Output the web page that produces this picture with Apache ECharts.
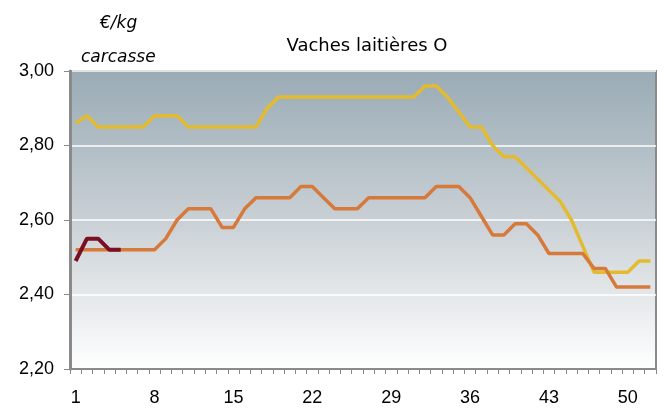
<!DOCTYPE html>
<html>
<head>
<meta charset="utf-8">
<script src="https://cdn.jsdelivr.net/npm/echarts@6/dist/echarts.min.js"></script>
<style>
  html, body { margin: 0; padding: 0; background: #fff; }
  #main { width: 667px; height: 410px; }
</style>
</head>
<body>
<div id="main"></div>
<script>
// semaines 1..52
const weeks = []
for (let i = 1; i <= 52; i++) weeks.push(String(i))

// prix (€/kg carcasse)
const yellowPrices = [
  2.86, 2.88, 2.85, 2.85, 2.85, 2.85, 2.85, 2.88, 2.88, 2.88,
  2.85, 2.85, 2.85, 2.85, 2.85, 2.85, 2.85, 2.90, 2.93, 2.93,
  2.93, 2.93, 2.93, 2.93, 2.93, 2.93, 2.93, 2.93, 2.93, 2.93,
  2.93, 2.96, 2.96, 2.93, 2.89, 2.85, 2.85, 2.80, 2.77, 2.77,
  2.74, 2.71, 2.68, 2.65, 2.60, 2.53, 2.46, 2.46, 2.46, 2.46,
  2.49, 2.49
]
const orangePrices = [
  2.52, 2.52, 2.52, 2.52, 2.52, 2.52, 2.52, 2.52, 2.55, 2.60,
  2.63, 2.63, 2.63, 2.58, 2.58, 2.63, 2.66, 2.66, 2.66, 2.66,
  2.69, 2.69, 2.66, 2.63, 2.63, 2.63, 2.66, 2.66, 2.66, 2.66,
  2.66, 2.66, 2.69, 2.69, 2.69, 2.66, 2.61, 2.56, 2.56, 2.59,
  2.59, 2.56, 2.51, 2.51, 2.51, 2.51, 2.47, 2.47, 2.42, 2.42,
  2.42, 2.42
]
const redPrices = [2.49, 2.55, 2.55, 2.52, 2.52]

const yTicks = [2.2, 2.4, 2.6, 2.8, 3.0]

const chart = echarts.init(document.getElementById('main'))

const fontFam = 'Liberation Sans, Arial, sans-serif'

chart.setOption({
  animation: false,
  title: [
    {
      text: 'Vaches laitières O',
      left: 362, top: 32, textAlign: 'center',
      textStyle: { fontSize: 18, fontWeight: 'normal', color: '#000', fontFamily: 'DejaVu Sans' }
    },
    {
      text: '€/kg',
      left: 95, top: 10,
      textStyle: { fontSize: 17, fontStyle: 'italic', fontWeight: 'normal', color: '#000', fontFamily: 'DejaVu Sans' }
    },
    {
      text: 'carcasse',
      left: 76, top: 44,
      textStyle: { fontSize: 17, fontStyle: 'italic', fontWeight: 'normal', color: '#000', fontFamily: 'DejaVu Sans' }
    }
  ],
  grid: {
    left: 70, right: 11, top: 71, bottom: 41,
    show: true,
    borderColor: '#8a8a8a',
    borderWidth: 2,
    backgroundColor: {
      type: 'linear', x: 0, y: 0, x2: 0, y2: 1,
      colorStops: [
        { offset: 0, color: '#99abb5' },
        { offset: 0.5, color: '#c9d0d5' },
        { offset: 1, color: '#ffffff' }
      ]
    }
  },
  xAxis: {
    type: 'category',
    data: weeks,
    boundaryGap: true,
    axisLine: { lineStyle: { color: '#8a8a8a', width: 2 } },
    axisTick: { show: true, interval: 0, length: 5, lineStyle: { color: '#8a8a8a' } },
    axisLabel: { interval: 6, fontSize: 18, color: '#000', margin: 20, fontFamily: fontFam },
    splitLine: { show: false }
  },
  yAxis: {
    type: 'value',
    min: yTicks[0],
    max: yTicks[yTicks.length - 1],
    interval: 0.2,
    axisLine: { show: true, lineStyle: { color: '#8a8a8a', width: 3 } },
    axisTick: { show: true, length: 6, lineStyle: { color: '#8a8a8a' } },
    axisLabel: {
      fontSize: 18, color: '#000', margin: 16, fontFamily: fontFam,
      formatter: v => v.toFixed(2).replace('.', ',')
    },
    splitLine: { show: true, lineStyle: { color: '#ffffff', width: 1.5 } }
  },
  series: [
    {
      type: 'line', data: yellowPrices, symbol: 'none',
      lineStyle: { color: '#e4bb2f', width: 3.5 }
    },
    {
      type: 'line', data: orangePrices, symbol: 'none',
      lineStyle: { color: '#d6793a', width: 3.5 }
    },
    {
      type: 'line', data: redPrices, symbol: 'none',
      lineStyle: { color: '#7a0f22', width: 4 }
    }
  ]
})
</script>
</body>
</html>
